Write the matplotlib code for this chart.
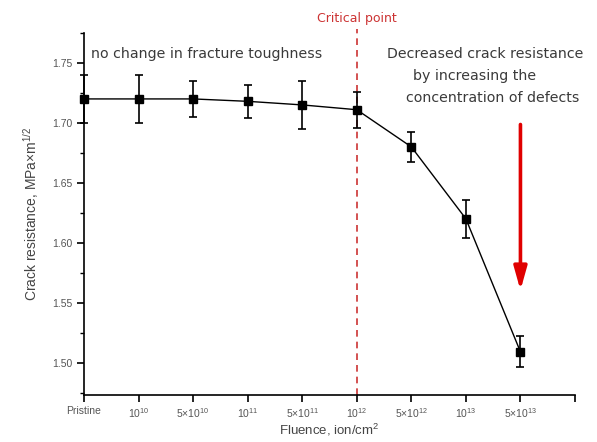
import matplotlib
matplotlib.use("Agg")
import matplotlib.pyplot as plt

plt.rcParams['font.family'] = ['Liberation Sans', 'DejaVu Sans']
plt.rcParams['mathtext.fontset'] = 'custom'
plt.rcParams['mathtext.rm'] = 'Liberation Sans'
plt.rcParams['mathtext.it'] = 'Liberation Sans'

# data
fluence_labels = ['Pristine', '$10^{10}$', '$5{\\times}10^{10}$', '$10^{11}$',
                  '$5{\\times}10^{11}$', '$10^{12}$', '$5{\\times}10^{12}$',
                  '$10^{13}$', '$5{\\times}10^{13}$']
resistance = [1.720, 1.720, 1.720, 1.718, 1.715, 1.711, 1.680, 1.620, 1.509]
errors = [0.020, 0.020, 0.015, 0.014, 0.020, 0.015, 0.0125, 0.016, 0.013]
critical_idx = 5

fig = plt.figure(figsize=(5.97, 4.42), dpi=100)
ax = fig.add_axes([84 / 597, 1 - 395 / 442, (575 - 84) / 597, (395 - 33) / 442])

x = list(range(len(resistance)))
ax.errorbar(x, resistance, yerr=errors, color='black', marker='s', ms=5.5,
            lw=1.0, elinewidth=1.2, capsize=3, capthick=1.2, clip_on=False, zorder=3)

ax.set_xlim(0, 9)
ax.set_ylim(1.473, 1.775)
ax.set_xticks(range(10))
ax.set_xticklabels(fluence_labels + [''])
ax.set_yticks([1.50, 1.55, 1.60, 1.65, 1.70, 1.75])
ax.set_yticklabels(['1.50', '1.55', '1.60', '1.65', '1.70', '1.75'])
ax.set_yticks([1.475, 1.525, 1.575, 1.625, 1.675, 1.725, 1.775], minor=True)

for s in ['top', 'right']:
    ax.spines[s].set_visible(False)
for s in ['left', 'bottom']:
    ax.spines[s].set_linewidth(1.2)
ax.tick_params(axis='both', which='major', direction='out', length=5, width=1.2,
               labelsize=7.5, labelcolor='#555555')
ax.tick_params(axis='x', which='major', pad=3)
ax.tick_params(axis='y', which='minor', direction='out', length=3, width=1.0)

ax.set_xlabel('Fluence, ion/cm$^2$', fontsize=9.5, color='#444444', labelpad=1)
ax.set_ylabel('Crack resistance, MPa\u00d7m$^{1/2}$', fontsize=10, color='#444444', labelpad=8)

# critical point line
ax.plot([critical_idx, critical_idx], [1.473, 1.778], ls=(0, (4, 3)), color='#cc3333',
        lw=1.2, clip_on=False, zorder=2)
ax.text(critical_idx, 1.787, 'Critical point', color='#cc3333', fontsize=9,
        family='DejaVu Sans', ha='center', va='center')

txt = '#3a3a3a'
ann = dict(fontsize=10.2, color=txt, family='DejaVu Sans', va='center')
ax.text(0.13, 1.7575, 'no change in fracture toughness', ha='left', **ann)
ax.text(7.35, 1.7575, 'Decreased crack resistance', ha='center', **ann)
ax.text(7.15, 1.739, 'by increasing the', ha='center', **ann)
ax.text(7.5, 1.7205, 'concentration of defects', ha='center', **ann)

# red arrow
ax.annotate('', xy=(8, 1.558), xytext=(8, 1.701),
            arrowprops=dict(arrowstyle='-|>,head_length=1.0,head_width=0.28',
                            color='#e00000', lw=2.6, mutation_scale=14))

fig.savefig('out.png', dpi=100)
